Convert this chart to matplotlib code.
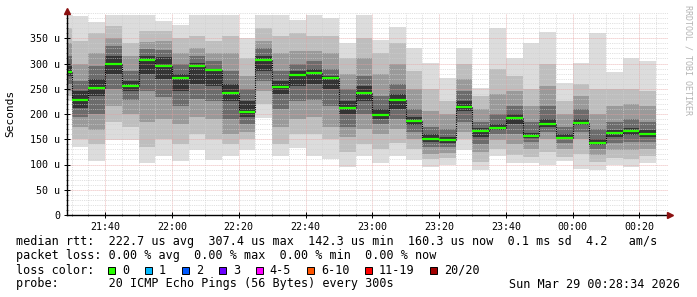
import matplotlib
matplotlib.use("Agg")
import matplotlib.pyplot as plt
from matplotlib.ticker import MultipleLocator, FixedLocator, FuncFormatter
from matplotlib.patches import Rectangle

# end time of each 5 minute step (the first one is only partly shown)
bar_end = ["21:30", "21:35", "21:40", "21:45", "21:50", "21:55",
           "22:00", "22:05", "22:10", "22:15", "22:20", "22:25",
           "22:30", "22:35", "22:40", "22:45", "22:50", "22:55",
           "23:00", "23:05", "23:10", "23:15", "23:20", "23:25",
           "23:30", "23:35", "23:40", "23:45", "23:50", "23:55",
           "00:00", "00:05", "00:10", "00:15", "00:20", "00:25"]

# median rtt per step, in microseconds
medians = [284, 228.5, 251.6, 299.8, 255.6, 306.4, 295.9, 272, 296, 287,
           242, 203, 307.4, 253, 278, 281, 271, 212, 242, 198,
           227, 185.6, 151, 148.6, 214.6, 165.8, 172.4, 191.5, 155.8, 179.6,
           153.2, 182.3, 142.3, 161.8, 166.4, 160.3]

# sorted ping rtts per step (smoke), in microseconds
pings = [
    [225, 235, 245, 260, 275, 295, 315, 340, 370, 396],
    [134, 150, 175, 195, 212, 245, 265, 300, 345, 394],
    [106, 140, 168, 200, 235, 270, 295, 320, 360, 383],
    [148, 185, 215, 250, 280, 315, 335, 350, 375, 396],
    [149, 175, 200, 228, 245, 265, 285, 315, 340, 396],
    [102, 135, 185, 245, 280, 314, 328, 342, 365, 396],
    [116, 150, 190, 234, 270, 312, 327, 345, 365, 385],
    [106, 140, 180, 215, 245, 280, 300, 320, 350, 376],
    [129, 160, 195, 230, 260, 300, 315, 330, 355, 396],
    [109, 150, 190, 225, 255, 290, 305, 320, 345, 396],
    [116, 140, 160, 190, 225, 260, 285, 320, 355, 396],
    [129, 150, 165, 180, 195, 225, 250, 275, 310, 350],
    [192, 220, 245, 265, 285, 315, 330, 345, 370, 396],
    [116, 140, 175, 210, 240, 265, 285, 320, 355, 396],
    [132, 160, 190, 225, 255, 285, 300, 325, 360, 386],
    [116, 160, 195, 228, 260, 290, 305, 325, 355, 396],
    [110, 150, 175, 215, 250, 275, 290, 320, 355, 390],
    [96, 125, 155, 175, 200, 225, 250, 280, 310, 340],
    [116, 140, 170, 200, 225, 255, 275, 310, 350, 396],
    [102, 130, 160, 180, 190, 210, 235, 280, 320, 347],
    [116, 142, 170, 190, 210, 240, 260, 300, 340, 373],
    [109, 130, 150, 165, 178, 195, 210, 250, 285, 330],
    [96, 110, 120, 135, 145, 160, 175, 205, 250, 300],
    [99, 112, 122, 135, 143, 155, 170, 200, 225, 271],
    [129, 150, 165, 185, 205, 225, 245, 270, 300, 330],
    [89, 105, 125, 140, 155, 172, 185, 210, 235, 251],
    [116, 130, 148, 160, 168, 180, 200, 240, 290, 370],
    [102, 118, 140, 160, 180, 200, 215, 245, 275, 310],
    [102, 115, 130, 145, 152, 162, 185, 215, 250, 340],
    [99, 125, 150, 165, 175, 190, 215, 255, 300, 363],
    [106, 115, 130, 142, 150, 160, 175, 200, 225, 261],
    [92, 120, 150, 165, 178, 190, 210, 235, 260, 300],
    [89, 105, 118, 130, 138, 150, 170, 200, 250, 360],
    [99, 112, 128, 142, 155, 168, 185, 215, 250, 284],
    [96, 110, 128, 145, 158, 172, 190, 220, 250, 310],
    [102, 116, 130, 145, 155, 168, 185, 215, 245, 304],
]

x_ticks = ["21:40", "22:00", "22:20", "22:40", "23:00",
           "23:20", "23:40", "00:00", "00:20"]
y_ticks = [0, 50, 100, 150, 200, 250, 300, 350]

loss_labels = ["0", "1", "2", "3", "4-5", "6-10", "11-19", "20/20"]
loss_colors = ["#26ff00", "#00b8ff", "#0059ff", "#6a00ff",
               "#ff00ff", "#ff5500", "#ff0000", "#a10000"]

shades = ["#dcdcdc", "#bebebe", "#9a9a9a", "#6c6c6c", "#343434"]
MONO = "DejaVu Sans Mono"
W, H = 697, 297


def to_min(hhmm):
    # minutes after 21:00, times past midnight roll over
    h, m = map(int, hhmm.split(":"))
    if h < 12:
        h += 24
    return (h - 21) * 60 + m


t_start = 28 + 34 / 60.0
t_end = t_start + 180

fig = plt.figure(figsize=(W / 100, H / 100), dpi=100)
fig.patch.set_facecolor("white")
ax = fig.add_axes([67 / W, 82 / H, 601 / W, 202 / H])

lefts = [to_min(t) - 5 for t in bar_end]
rights = [to_min(t) for t in bar_end]

# smoke: nested bands, outer pair lightest
for i, p in enumerate(pings):
    for j in range(5):
        ax.bar(lefts[i], p[9 - j] - p[j], bottom=p[j], width=5, align="edge",
               color=shades[j], linewidth=0, zorder=1)

# dotted step connectors and green median lines
for i in range(1, len(medians)):
    ax.vlines(rights[i - 1], medians[i - 1], medians[i], colors="black",
              linestyles=(0, (1, 1)), linewidth=0.8, zorder=3)
ax.hlines(medians, lefts, rights, colors=loss_colors[0], linewidth=1.6, zorder=4)

ax.set_xlim(t_start, t_end)
ax.set_ylim(0, 400)

ax.xaxis.set_major_locator(FixedLocator([to_min(t) for t in x_ticks]))
ax.xaxis.set_major_formatter(FuncFormatter(lambda v, pos: x_ticks[pos] if pos is not None and pos < len(x_ticks) else ""))
ax.xaxis.set_minor_locator(MultipleLocator(5))
ax.yaxis.set_major_locator(FixedLocator(y_ticks))
ax.yaxis.set_major_formatter(FuncFormatter(lambda v, pos: "0" if v == 0 else f"{int(v)} u"))
ax.yaxis.set_minor_locator(MultipleLocator(10))

ax.set_axisbelow(False)
ax.grid(which="minor", color="#cfcfcf", linestyle=(0, (1, 1.4)), linewidth=0.55)
ax.grid(which="major", color="#e6a0a0", linestyle=(0, (1, 1.4)), linewidth=0.6)

for s in ["top", "right"]:
    ax.spines[s].set_visible(False)
for s in ["left", "bottom"]:
    ax.spines[s].set_color("black")
    ax.spines[s].set_linewidth(1.0)
    ax.spines[s].set_zorder(5)

ax.tick_params(which="major", direction="inout", length=4, width=0.7, colors="black",
               labelsize=7.2, pad=3)
ax.tick_params(which="minor", direction="inout", length=2, width=0.6, colors="#555555")
for lab in ax.get_xticklabels() + ax.get_yticklabels():
    lab.set_family(MONO)

# axis arrows
ax.plot([t_start], [403], marker="^", color="#8b1010", markersize=4, clip_on=False, zorder=6)
ax.plot([t_end + 0.6], [0], marker=">", color="#8b1010", markersize=4, clip_on=False, zorder=6)

fig.text(10.5 / W, 1 - 113 / H, "Seconds", rotation=90, ha="center", va="center",
         family=MONO, size=8)
fig.text(688 / W, 1 - 60 / H, "RRDTOOL / TOBI OETIKER", rotation=270, ha="center",
         va="center", family=MONO, size=6, color="#b4b4b4")

lines = [
    "median rtt:  222.7 us avg  307.4 us max  142.3 us min  160.3 us now  0.1 ms sd  4.2   am/s",
    "packet loss: 0.00 % avg  0.00 % max  0.00 % min  0.00 % now",
    "loss color:",
    "probe:       20 ICMP Echo Pings (56 Bytes) every 300s",
]
line_y = [241, 256, 270, 284]
for txt, y in zip(lines, line_y):
    fig.text(16 / W, 1 - y / H, txt, ha="left", va="center", family=MONO, size=8.5)
fig.text(680 / W, 1 - 284 / H, "Sun Mar 29 00:28:34 2026", ha="right", va="center",
         family=MONO, size=8.5)

# loss colour legend boxes
cw = 7.1
x = 108
for lab, col in zip(loss_labels, loss_colors):
    fig.add_artist(Rectangle((x / W, 1 - 273.5 / H), 7 / W, 7 / H, transform=fig.transFigure,
                             facecolor=col, edgecolor="black", linewidth=0.7))
    fig.text((x + 14) / W, 1 - 270 / H, lab, ha="left", va="center", family=MONO, size=8.5)
    x += (len(lab) + 4.2) * cw

fig.savefig("out.png", dpi=100)
